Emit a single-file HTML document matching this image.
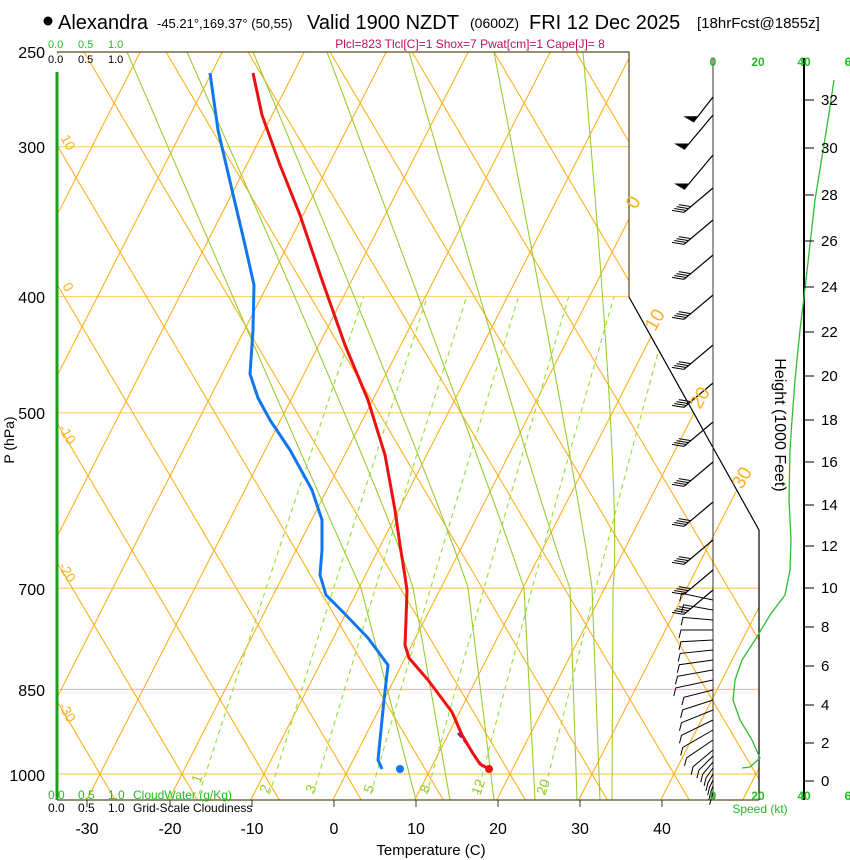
<!DOCTYPE html>
<html><head><meta charset="utf-8"><style>
body{margin:0;background:#fff;}
svg{display:block;font-family:"Liberation Sans",sans-serif;}
</style></head><body>
<svg id="s" width="850" height="860" viewBox="0 0 850 860" xmlns="http://www.w3.org/2000/svg">
<defs><clipPath id="cp"><polygon points="57,52 629,52 629,297 759,530 759,800 57,800"/></clipPath></defs>
<g id="bg" clip-path="url(#cp)"></g>
<polyline points="57,52 629,52 629,297" fill="none" stroke="#5a4a1a" stroke-width="1.2"/>
<polyline points="629,297 759,530 759,800" fill="none" stroke="#000" stroke-width="1.2"/>
<line x1="57" y1="800" x2="759" y2="800" stroke="#5a4a1a" stroke-width="1.2"/>
<line x1="57" y1="72" x2="57" y2="800" stroke="#1aa01a" stroke-width="3"/>
<g stroke="#333" stroke-width="1">
<line x1="87" y1="800" x2="87" y2="807"/><line x1="170" y1="800" x2="170" y2="807"/><line x1="252" y1="800" x2="252" y2="807"/><line x1="334" y1="800" x2="334" y2="807"/><line x1="416" y1="800" x2="416" y2="807"/><line x1="498" y1="800" x2="498" y2="807"/><line x1="580" y1="800" x2="580" y2="807"/><line x1="662" y1="800" x2="662" y2="807"/>
</g>
<line x1="713" y1="58" x2="713" y2="800" stroke="#333" stroke-width="1"/>
<line x1="804" y1="58" x2="804" y2="800" stroke="#000" stroke-width="2"/>
<g id="fg"></g>
<circle cx="48" cy="21" r="4.5" fill="#000"/>
<text x="58" y="29" font-size="20">Alexandra</text>
<text x="157" y="28" font-size="13">-45.21°,169.37° (50,55)</text>
<text x="307" y="29" font-size="20">Valid 1900 NZDT</text>
<text x="470" y="28" font-size="14">(0600Z)</text>
<text x="529" y="29" font-size="20">FRI 12 Dec 2025</text>
<text x="697" y="28" font-size="15">[18hrFcst@1855z]</text>
<text x="470" y="48" font-size="12" fill="#c0105a" text-anchor="middle">Plcl=823 Tlcl[C]=1 Shox=7 Pwat[cm]=1 Cape[J]= 8</text>
<g font-size="11" fill="#22bb22"><text x="48" y="48">0.0</text><text x="78" y="48">0.5</text><text x="108" y="48">1.0</text></g>
<g font-size="11" fill="#000"><text x="48" y="63">0.0</text><text x="78" y="63">0.5</text><text x="108" y="63">1.0</text></g>
<g font-size="12" fill="#22bb22"><text x="48" y="799">0.0</text><text x="78" y="799">0.5</text><text x="108" y="799">1.0</text><text x="133" y="799">CloudWater (g/Kg)</text></g>
<g font-size="12" fill="#000"><text x="48" y="812">0.0</text><text x="78" y="812">0.5</text><text x="108" y="812">1.0</text><text x="133" y="812">Grid-Scale Cloudiness</text></g>
<g font-size="16" text-anchor="end"><text x="45" y="58">250</text><text x="45" y="153">300</text><text x="45" y="303">400</text><text x="45" y="419">500</text><text x="45" y="595">700</text><text x="45" y="696">850</text><text x="45" y="781">1000</text></g>
<text transform="translate(14,440) rotate(-90)" font-size="14" text-anchor="middle">P (hPa)</text>
<g font-size="16" text-anchor="middle"><text x="87" y="834">-30</text><text x="170" y="834">-20</text><text x="252" y="834">-10</text><text x="334" y="834">0</text><text x="416" y="834">10</text><text x="498" y="834">20</text><text x="580" y="834">30</text><text x="662" y="834">40</text></g>
<text x="431" y="855" font-size="15" text-anchor="middle">Temperature (C)</text>
<g font-size="12" fill="#22bb22" font-weight="bold" text-anchor="middle"><text x="713" y="66">0</text><text x="758" y="66">20</text><text x="804" y="66">40</text><text x="848" y="66">6</text>
<text x="713" y="800">0</text><text x="758" y="800">20</text><text x="804" y="800">40</text><text x="848" y="800">6</text></g>
<text x="760" y="813" font-size="12" fill="#22bb22" text-anchor="middle">Speed (kt)</text>
<text transform="translate(775,425) rotate(90)" font-size="16" text-anchor="middle">Height (1000 Feet)</text>
<g font-size="15" id="ht"></g>
<g font-size="19" fill="#ffb020">
<text transform="translate(636,210) rotate(-60)">0</text>
<text transform="translate(655,332) rotate(-60)">10</text>
<text transform="translate(700,410) rotate(-60)">20</text>
<text transform="translate(742,490) rotate(-60)">30</text>
</g>
<g font-size="14" fill="#ffb020">
<text transform="translate(60,138) rotate(60)">10</text>
<text transform="translate(62,286) rotate(60)">0</text>
<text transform="translate(58,428) rotate(60)">-10</text>
<text transform="translate(58,566) rotate(60)">-20</text>
<text transform="translate(58,706) rotate(60)">-30</text>
</g>
<g font-size="14" fill="#99cc33">
<text transform="translate(200,784) rotate(-70)">1</text>
<text transform="translate(268,794) rotate(-70)">2</text>
<text transform="translate(314,794) rotate(-70)">3</text>
<text transform="translate(372,794) rotate(-70)">5</text>
<text transform="translate(428,794) rotate(-70)">8</text>
<text transform="translate(480,796) rotate(-70)">12</text>
<text transform="translate(545,796) rotate(-70)">20</text>
</g>
</svg>
<script>
var NS="http://www.w3.org/2000/svg";
function Y(p){return 774-521*Math.log(1000/p);}
function X(T,y){return 346+8.2*T+0.51*(774-y);}
function path(g,d,st){var e=document.createElementNS(NS,"path");e.setAttribute("d",d);e.setAttribute("fill","none");for(var k in st)e.setAttribute(k,st[k]);g.appendChild(e);}
var bg=document.getElementById("bg"),fg=document.getElementById("fg");
var OR="#ffb020";
[300,400,500].forEach(function(p){var y=Y(p);path(bg,"M57 "+y+"L759 "+y,{stroke:"#ffcc55","stroke-width":1});});
[700,850,1000].forEach(function(p){var y=Y(p);path(bg,"M57 "+y+"L759 "+y,{stroke:"#ffc030","stroke-width":1});});
for(var T=-140;T<=60;T+=10){path(bg,"M"+X(T,800)+" 800L"+X(T,52)+" 52",{stroke:OR,"stroke-width":1.1});}
for(var th=-60;th<=160;th+=10){var x0=346+8.2*th;var xa=x0+0.59*26,xb=x0-0.59*722;path(bg,"M"+xa+" 800L"+xb+" 52",{stroke:OR,"stroke-width":1.1});}
function tdew(e){var l=Math.log(e/6.112);return 243.5*l/(17.67-l);}
[1,2,3,5,8,12,20].forEach(function(w){var d="";for(var p=1040;p>=400;p-=10){var e=w*p/(622+w);var t=tdew(e);var y=Y(p);d+=(d?"L":"M")+X(t,y).toFixed(1)+" "+y.toFixed(1);}path(bg,d,{stroke:"#99dd33","stroke-width":1.1,"stroke-dasharray":"5,4"});});
// moist adiabats (traced)
var ma=[[[127,52],[283,412],[361,588],[416,800]],[[187,52],[344,412],[413,588],[450,800]],[[253,52],[401,412],[468,588],[494,800]],[[327,52],[461,412],[524,588],[535,800]],[[409,52],[514,412],[570,588],[577,800]],[[494,52],[562,412],[592,588],[600,800]],[[583,52],[610,412],[613,588],[612,800]]];
ma.forEach(function(l){var d="M"+l[0].join(" ")+"C";var a=l[0],b=l[1],c=l[2],e=l[3];
 d="M"+a.join(" ")+"Q"+(2*b[0]-(a[0]+c[0])/2)+" "+(2*b[1]-(a[1]+c[1])/2)+" "+c.join(" ")+"L"+e.join(" ");
 path(bg,d,{stroke:"#99cc33","stroke-width":1.1});});
function pl(a){return "M"+a.map(function(q){return q.join(" ");}).join("L");}
var red=[[253,73],[262,115],[280,165],[300,215],[322,280],[345,345],[368,400],[385,455],[395,510],[400,545],[404,570],[407,590],[406,620],[405,645],[409,658],[428,680],[452,712],[462,735],[472,752],[480,764],[489,769]];
var blue=[[210,73],[218,130],[232,190],[245,245],[254,285],[253,330],[250,374],[258,398],[270,420],[290,450],[312,490],[322,520],[322,550],[320,575],[326,595],[343,612],[368,638],[388,665],[384,700],[380,740],[378,760],[382,769]];
path(fg,"M458 733L468 745L476 758L484 768",{stroke:"#882288","stroke-width":2.5,"stroke-dasharray":"6,3"});
path(fg,pl(red),{stroke:"#ee1111","stroke-width":3,"stroke-linejoin":"round"});
path(fg,pl(blue),{stroke:"#1177ee","stroke-width":3,"stroke-linejoin":"round"});
var c=document.createElementNS(NS,"circle");c.setAttribute("cx",489);c.setAttribute("cy",769);c.setAttribute("r",4);c.setAttribute("fill","#ee1111");fg.appendChild(c);
c=document.createElementNS(NS,"circle");c.setAttribute("cx",400);c.setAttribute("cy",769);c.setAttribute("r",4);c.setAttribute("fill","#1177ee");fg.appendChild(c);
var sp=[[834,80],[828,120],[815,200],[806,280],[800,330],[795,380],[792,420],[790,450],[789,500],[791,540],[790,570],[785,595],[770,615],[755,640],[742,660],[735,680],[733,700],[740,720],[752,740],[760,758],[750,767],[742,768]];
path(fg,pl(sp),{stroke:"#33bb33","stroke-width":1.3});
function barb(y,len,ang,feat){var a=ang*Math.PI/180;var ex=713-len*Math.cos(a),ey=y+len*Math.sin(a);path(fg,"M713 "+y+"L"+ex.toFixed(1)+" "+ey.toFixed(1),{stroke:"#000","stroke-width":1.2});
 if(feat=="flag"){var pgn=document.createElementNS(NS,"polygon");pgn.setAttribute("points",ex+","+ey+" "+(ex-10)+","+(ey-6)+" "+(ex+5)+","+(ey-6));fg.appendChild(pgn);}
 else if(feat>0){for(var i=0;i<feat;i++){var fx=ex+i*3*Math.cos(a),fy=ey-i*3*Math.sin(a);path(fg,"M"+fx.toFixed(1)+" "+fy.toFixed(1)+"l-12 -2",{stroke:"#000","stroke-width":1});}}}
barb(97,32,52,"flag");barb(115,45,50,"flag");barb(155,45,50,"flag");
[188,220,255,295,345,383,422,462,502,540,570,590].forEach(function(y){barb(y,38,40,4);});
var lb=[[600,32,12],[610,30,10],[620,30,5],[630,32,0],[640,32,-3],[650,33,-6],[660,34,-8],[670,36,-10],[680,38,-12],[690,30,-14],[700,32,-18],[710,34,-22],[720,35,-26],[730,35,-30],[740,32,-34],[750,26,-40],[756,20,-45],[762,16,-50],[768,12,-55],[774,10,-60],[780,8,-65],[786,6,-70],[792,5,-75]];
lb.forEach(function(q){var a=q[2]*Math.PI/180;var ex=713-q[1]*Math.cos(a),ey=q[0]-q[1]*Math.sin(a);path(fg,"M713 "+q[0]+"L"+ex.toFixed(1)+" "+ey.toFixed(1)+"l-2 8",{stroke:"#000","stroke-width":1});});
var hv=[[0,781],[2,743],[4,705],[6,666],[8,627],[10,588],[12,546],[14,505],[16,462],[18,420],[20,376],[22,332],[24,287],[26,241],[28,195],[30,148],[32,100]];
var ht=document.getElementById("ht");
hv.forEach(function(q){path(fg,"M804 "+q[1]+"L814 "+q[1],{stroke:"#000","stroke-width":1});var t=document.createElementNS(NS,"text");t.setAttribute("x",821);t.setAttribute("y",q[1]+5);t.textContent=q[0];ht.appendChild(t);});
</script>
</body></html>
